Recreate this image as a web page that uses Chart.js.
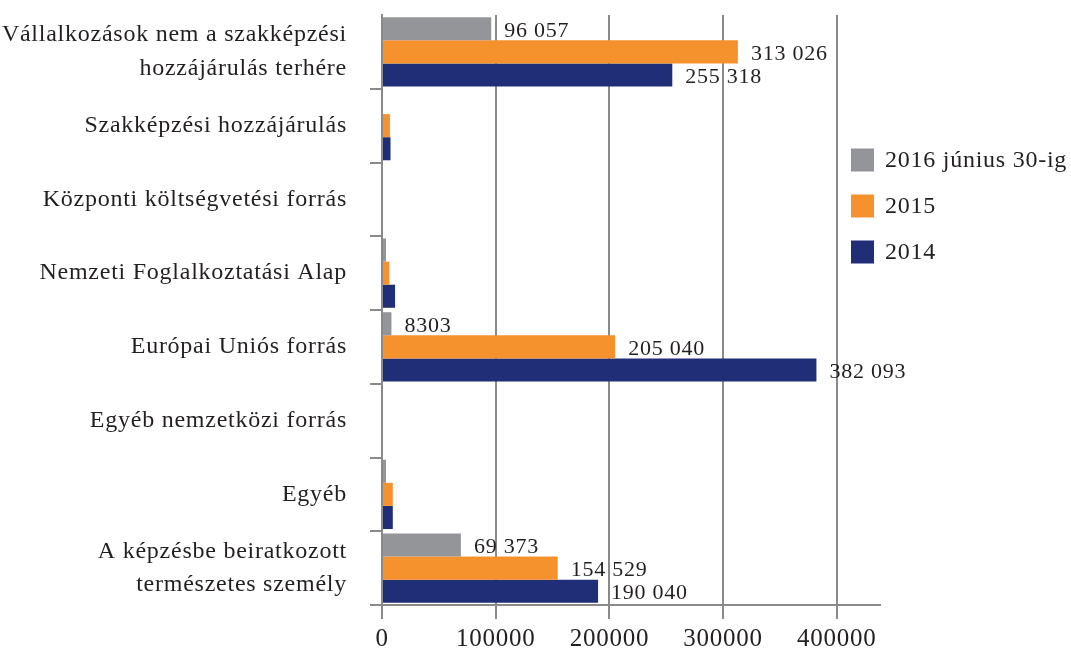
<!DOCTYPE html>
<html>
<head>
<meta charset="utf-8">
<script src="https://cdn.jsdelivr.net/npm/chart.js@4/dist/chart.umd.min.js"></script>
<style>
  html, body { margin: 0; padding: 0; background: #ffffff; }
  canvas { display: block; }
</style>
</head>
<body>
<canvas id="c" width="1071" height="652"></canvas>
<script>
const categories = [
  ['Vállalkozások nem a szakképzési', 'hozzájárulás terhére'],
  'Szakképzési hozzájárulás',
  'Központi költségvetési forrás',
  'Nemzeti Foglalkoztatási Alap',
  'Európai Uniós forrás',
  'Egyéb nemzetközi forrás',
  'Egyéb',
  ['A képzésbe beiratkozott', 'természetes személy']
];
const seriesNames = ['2016 június 30-ig', '2015', '2014'];
const values2016 = [96057, 0, 0, 3500, 8303, 0, 3500, 69373];
const values2015 = [313026, 7000, 0, 6500, 205040, 0, 9500, 154529];
const values2014 = [255318, 7500, 0, 11500, 382093, 0, 9500, 190040];
const labeledCategories = [0, 4, 7];
const xTickValues = [0, 100000, 200000, 300000, 400000];
const axisMin = 0;
const axisMax = 438000;

const colors = ['#949598', '#F6922E', '#202E78'];
const FONT = '"Liberation Serif", "Times New Roman", serif';
const TEXT = '#231f20';
const GRID = '#8a8a8a';

function fmt(v) {
  const s = String(v);
  return v >= 10000 ? s.replace(/\B(?=(\d{3})+(?!\d))/g, ' ') : s;
}

const spacingPlugin = {
  id: 'spacing',
  beforeDraw(chart) {
    chart.ctx.letterSpacing = '0.75px';
  }
};

const valueLabels = {
  id: 'valueLabels',
  afterDatasetsDraw(chart) {
    const ctx = chart.ctx;
    ctx.save();
    ctx.letterSpacing = '0.75px';
    ctx.font = '22px ' + FONT;
    ctx.fillStyle = TEXT;
    ctx.textAlign = 'left';
    ctx.textBaseline = 'middle';
    chart.data.datasets.forEach((ds, i) => {
      const meta = chart.getDatasetMeta(i);
      labeledCategories.forEach(idx => {
        const bar = meta.data[idx];
        ctx.fillText(fmt(ds.data[idx]), bar.x + 13, bar.y + 2);
      });
    });
    ctx.restore();
  }
};

const sideLegend = {
  id: 'sideLegend',
  afterDraw(chart) {
    const ctx = chart.ctx;
    ctx.save();
    ctx.letterSpacing = '0.75px';
    ctx.font = '24px ' + FONT;
    ctx.textAlign = 'left';
    ctx.textBaseline = 'middle';
    const x0 = chart.chartArea.right - 29;
    const y0 = 160;
    const step = 46;
    chart.data.datasets.forEach((ds, i) => {
      const cy = y0 + i * step;
      ctx.fillStyle = ds.backgroundColor;
      ctx.fillRect(x0, cy - 11.5, 23, 23);
      ctx.fillStyle = TEXT;
      ctx.fillText(ds.label, x0 + 34, cy + 1);
    });
    ctx.restore();
  }
};

new Chart(document.getElementById('c'), {
  type: 'bar',
  data: {
    labels: categories,
    datasets: [
      { label: seriesNames[0], data: values2016, backgroundColor: colors[0] },
      { label: seriesNames[1], data: values2015, backgroundColor: colors[1] },
      { label: seriesNames[2], data: values2014, backgroundColor: colors[2] }
    ]
  },
  options: {
    indexAxis: 'y',
    responsive: false,
    animation: false,
    layout: { padding: { top: 15, right: 191, left: 0, bottom: 0 } },
    datasets: { bar: { categoryPercentage: 0.94, barPercentage: 1.0 } },
    plugins: {
      legend: { display: false },
      tooltip: { enabled: false }
    },
    scales: {
      x: {
        min: axisMin,
        max: axisMax,
        afterBuildTicks(s) { s.ticks = xTickValues.map(v => ({ value: v })); },
        afterFit(s) { s.height = 47; s.paddingLeft = 0; s.paddingRight = 0; },
        ticks: {
          autoSkip: false,
          maxRotation: 0,
          padding: 5,
          color: TEXT,
          font: { family: FONT, size: 25 },
          callback: v => String(v)
        },
        grid: {
          color: GRID,
          lineWidth: 2,
          drawOnChartArea: true,
          drawTicks: true,
          tickLength: 14
        },
        border: { display: true, color: GRID, width: 2 }
      },
      y: {
        afterFit(s) { s.width = 382; s.paddingTop = 0; s.paddingBottom = 0; },
        ticks: {
          padding: 23,
          color: TEXT,
          autoSkip: false,
          font: { family: FONT, size: 24, lineHeight: 1.4 }
        },
        grid: {
          offset: true,
          drawOnChartArea: false,
          drawTicks: true,
          tickLength: 12,
          lineWidth: 2,
          color: c => (c.index === 0 ? 'rgba(0,0,0,0)' : GRID)
        },
        border: { display: true, color: GRID, width: 2 }
      }
    }
  },
  plugins: [spacingPlugin, valueLabels, sideLegend]
});
</script>
</body>
</html>
